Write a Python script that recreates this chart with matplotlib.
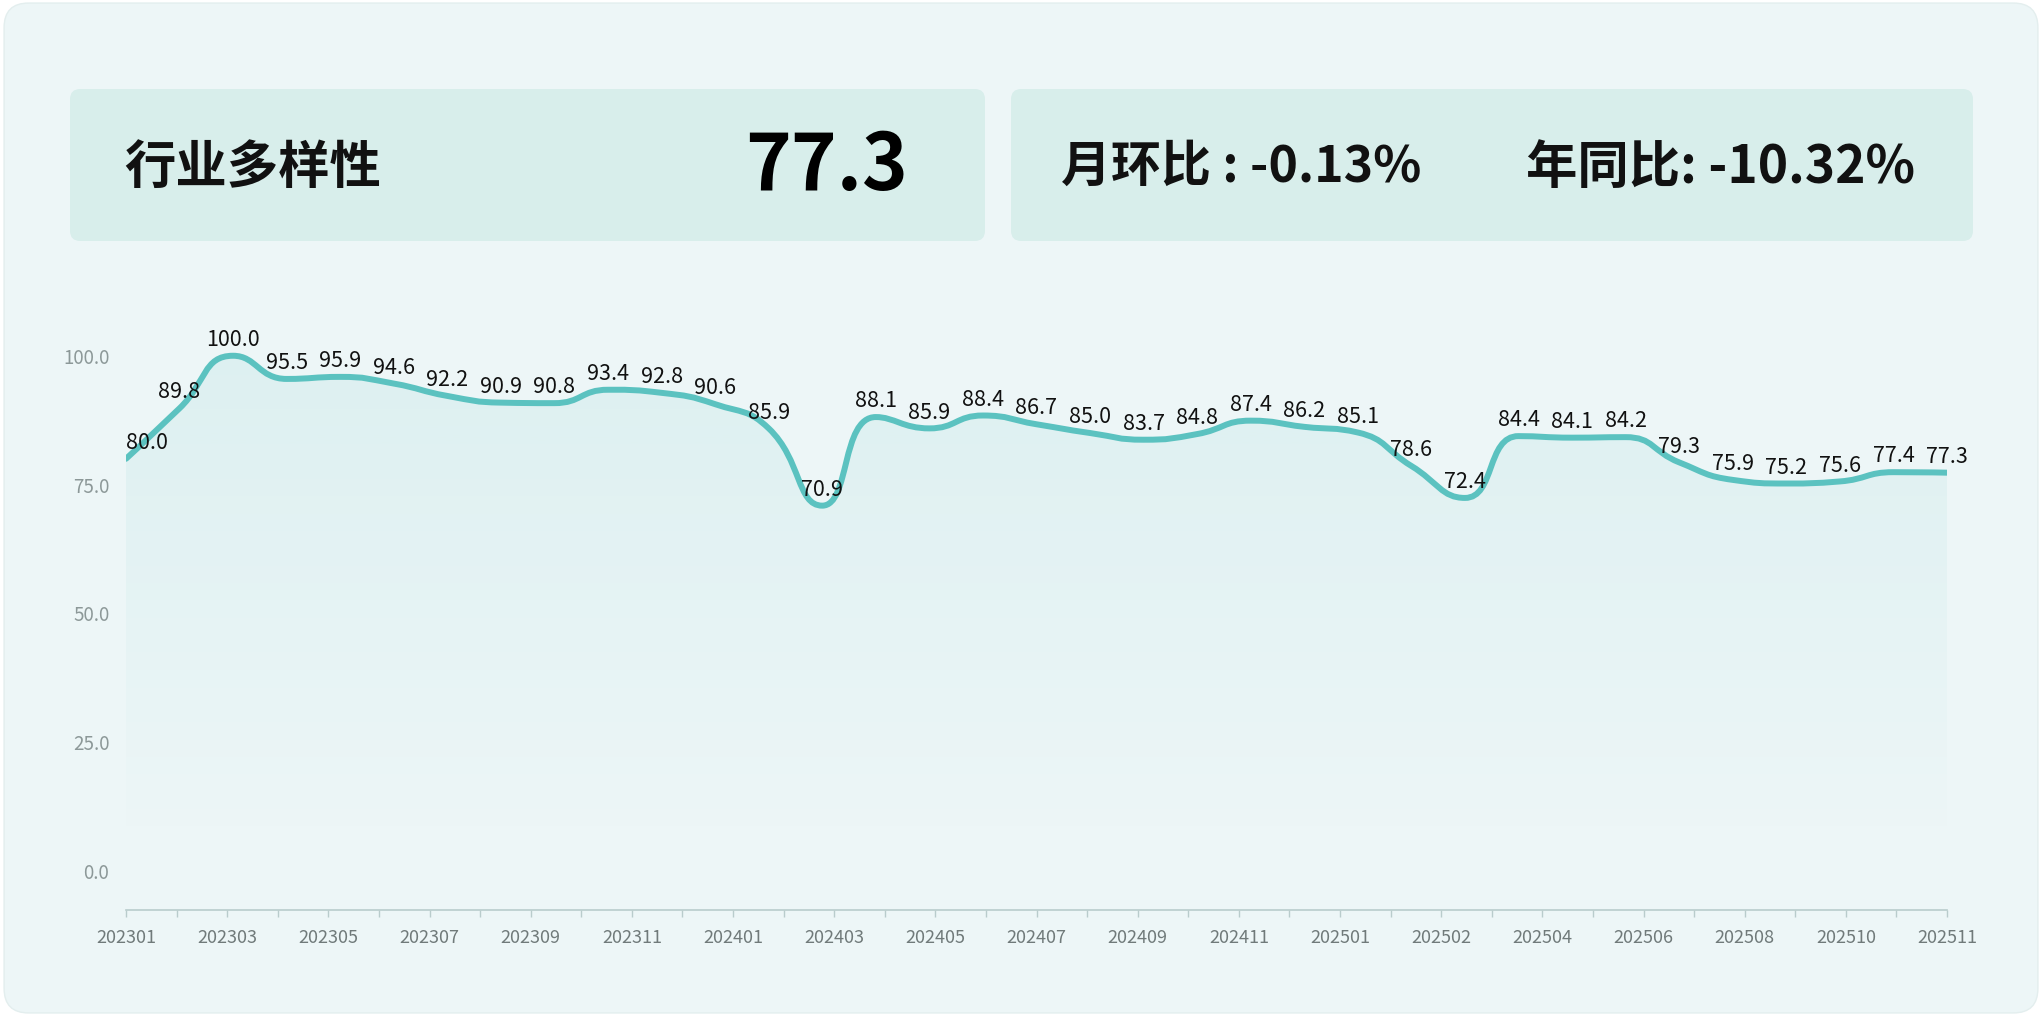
import numpy as np
import matplotlib
matplotlib.use("Agg")
import matplotlib.pyplot as plt
from matplotlib.patches import FancyBboxPatch, PathPatch
from matplotlib.path import Path

plt.rcParams["font.family"] = ["Noto Sans CJK SC", "DejaVu Sans"]

# ---- data ----
values = [80.0, 89.8, 100.0, 95.5, 95.9, 94.6, 92.2, 90.9, 90.8, 93.4, 92.8, 90.6,
          85.9, 70.9, 88.1, 85.9, 88.4, 86.7, 85.0, 83.7, 84.8, 87.4, 86.2, 85.1,
          78.6, 72.4, 84.4, 84.1, 84.2, 79.3, 75.9, 75.2, 75.6, 77.4, 77.3]
tick_labels = ["202301", "202303", "202305", "202307", "202309", "202311", "202401",
               "202403", "202405", "202407", "202409", "202411", "202501", "202502",
               "202504", "202506", "202508", "202510", "202511"]
y_ticks = [0, 25, 50, 75, 100]
title = "行业多样性"
latest = "77.3"
mom = "月环比 : -0.13%"
yoy = "年同比: -10.32%"

BG = "#edf6f7"; CARD = "#d8eeeb"; LINE = "#5bc2c0"

W, H = 2042, 1016
fig = plt.figure(figsize=(W/100, H/100), dpi=100, facecolor="white")
fig.patches.append(FancyBboxPatch((0.002, 0.003), 0.996, 0.994, boxstyle="round,pad=0,rounding_size=0.012",
                                  transform=fig.transFigure, fc=BG, ec="#e3eeee", lw=1,
                                  mutation_aspect=W/H, zorder=-10))
for x0, w in [(70, 915), (1011, 962)]:
    fig.patches.append(FancyBboxPatch((x0/W, 1-241/H), w/W, 152/H, boxstyle="round,pad=0,rounding_size=0.005",
                                      transform=fig.transFigure, fc=CARD, ec="none",
                                      mutation_aspect=W/H, zorder=-9))
fig.text(124/W, 1-167/H, title, fontsize=37, weight="bold", va="center", ha="left", color="#111")
fig.text(908/W, 1-167/H, latest, fontsize=56, weight="bold", va="center", ha="right", color="#000")
fig.text(1061/W, 1-167/H, mom, fontsize=36, weight="bold", va="center", ha="left", color="#111")
fig.text(1526/W, 1-167/H, yoy, fontsize=37, weight="bold", va="center", ha="left", color="#111")

ax = fig.add_axes([126/W, 1-910/H, (1947-126)/W, (910-330)/H])
ax.set_facecolor("none")
n = len(values)
ax.set_xlim(0, n-1); ax.set_ylim(-7.6, 105)

# smooth bezier through the points, echarts style (control points clamped to each segment box)
xs = np.arange(n)
P = ax.transData.transform(np.column_stack([xs, values]))
s = 0.5
cin, cout = P.copy(), P.copy()
box = lambda c, a, b: np.minimum(np.maximum(c, np.minimum(a, b)), np.maximum(a, b))
for i in range(1, n-1):
    prv, cur, nxt = P[i-1], P[i], P[i+1]
    v = nxt - prv
    l0 = np.hypot(*(cur-prv)); l1 = np.hypot(*(nxt-cur))
    r = l1/(l0+l1)
    c1 = box(cur + v*s*r, cur, nxt)
    c0 = box(cur - (c1-cur)*l0/l1, prv, cur)
    c1 = cur + (cur-c0)*l1/l0
    cin[i], cout[i] = c0, c1
inv = ax.transData.inverted()
cin, cout = inv.transform(cin), inv.transform(cout)
pts = [(xs[0], values[0])]; codes = [Path.MOVETO]
for i in range(n-1):
    pts += [tuple(cout[i]), tuple(cin[i+1]), (xs[i+1], values[i+1])]
    codes += [Path.CURVE4]*3
line_path = Path(pts, codes)
area_path = Path(pts + [(xs[-1], -7.6), (xs[0], -7.6), (xs[0], values[0])],
                 codes + [Path.LINETO, Path.LINETO, Path.CLOSEPOLY])

# gradient area
grad = np.zeros((200, 1, 4))
grad[..., :3] = matplotlib.colors.to_rgb(LINE)
grad[:, 0, 3] = np.linspace(0.11, 0.0, 200)
im = ax.imshow(grad, extent=[0, n-1, 5, 100], origin="upper", aspect="auto", zorder=1)
clip = PathPatch(area_path, transform=ax.transData, fc="none", ec="none")
ax.add_patch(clip); im.set_clip_path(clip)
ax.add_patch(PathPatch(line_path, fc="none", ec=LINE, lw=4.3, capstyle="round", joinstyle="round", zorder=3))

for i, v in enumerate(values):
    ax.annotate(f"{v:.1f}", (i, v), xytext=(0, 3.5), textcoords="offset points",
                ha="left" if i == 0 else "center", va="bottom", fontsize=15.5, color="#111", zorder=4)

for sp in ["top", "right", "left"]:
    ax.spines[sp].set_visible(False)
ax.spines["bottom"].set_color("#b9cccc"); ax.spines["bottom"].set_linewidth(1.2)
ax.set_yticks(y_ticks, [f"{t:.1f}" for t in y_ticks])
ax.tick_params(axis="y", length=0, pad=12, labelsize=13.5, labelcolor="#8c9898")
ax.set_xticks(np.linspace(0, n-1, len(tick_labels)), tick_labels)
ax.set_xticks(np.linspace(0, n-1, 2*len(tick_labels)-1), minor=True)
ax.tick_params(axis="x", which="both", length=5, width=1, color="#b9cccc", pad=9,
               labelsize=13, labelcolor="#707a7a")

fig.savefig("out.png", dpi=100, facecolor="white")
